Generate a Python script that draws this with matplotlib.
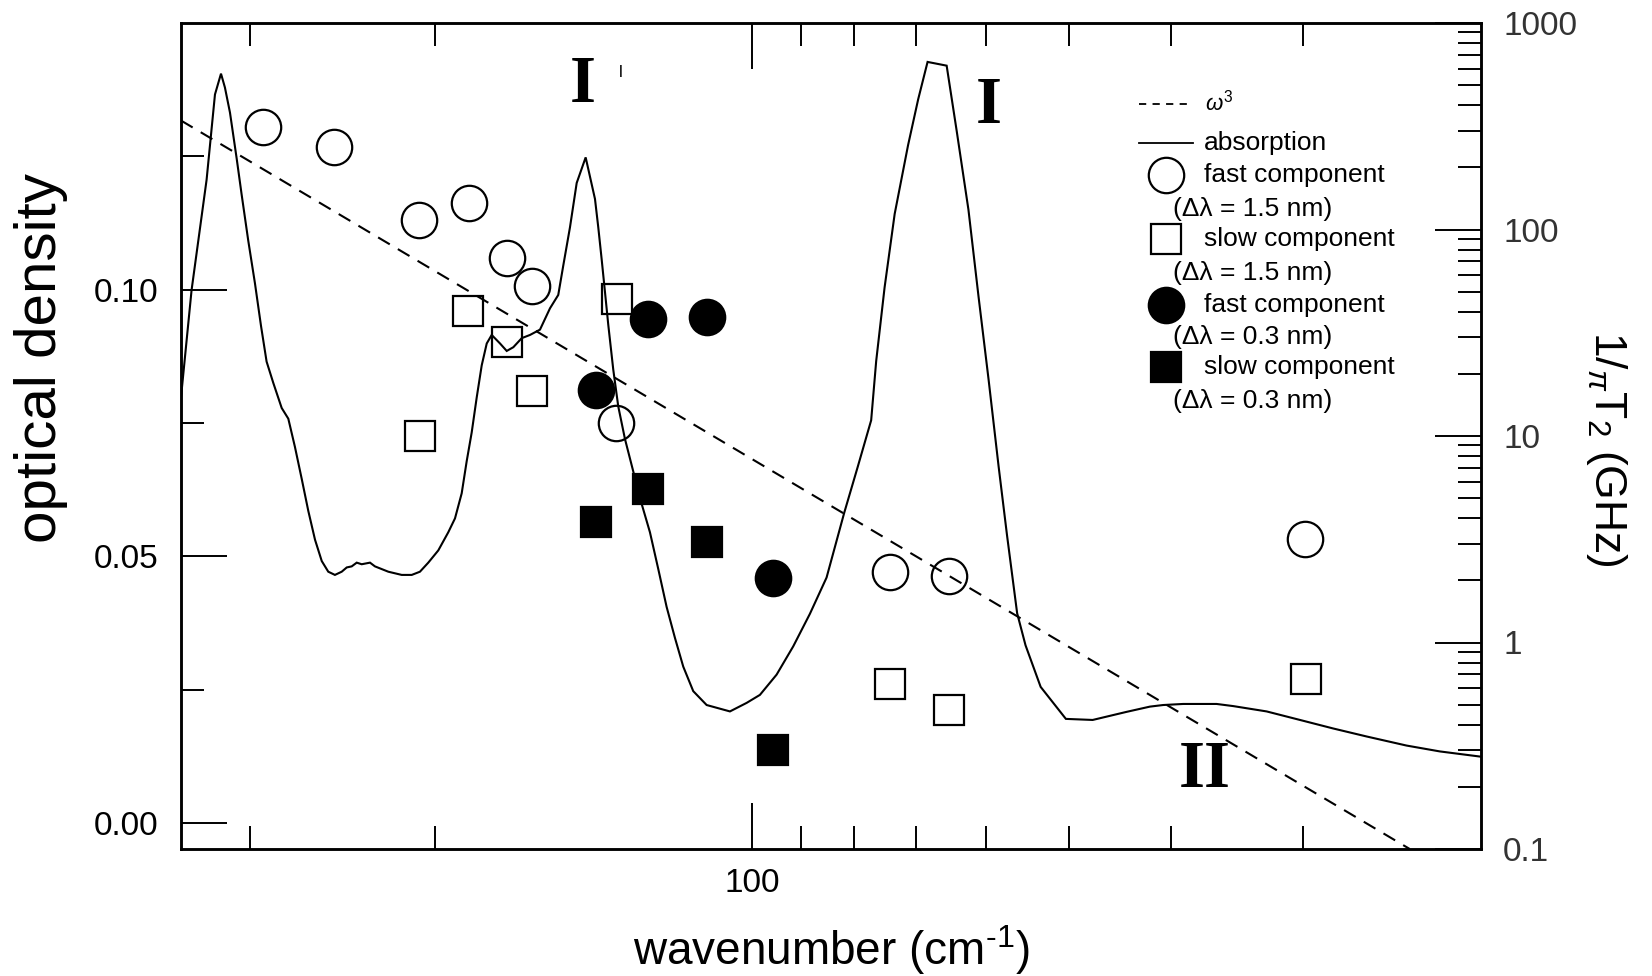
import matplotlib
matplotlib.use("Agg")
import matplotlib.pyplot as plt
from matplotlib.ticker import FixedLocator, FixedFormatter, NullFormatter

plt.rcParams['font.family'] = ['Liberation Sans', 'DejaVu Sans']
plt.rcParams['mathtext.fontset'] = 'custom'
plt.rcParams['mathtext.rm'] = 'Liberation Sans'
plt.rcParams['mathtext.it'] = 'Liberation Sans:italic'

# ---------------- data ----------------
# absorption spectrum (left axis, optical density)
abs_wavenumber = [28.66, 29.33, 30.31, 30.87, 31.28, 31.55, 31.90, 32.37, 32.72, 33.20,
                  33.69, 34.14, 34.56, 35.07, 35.72, 36.24, 36.77, 37.32, 37.86, 38.42,
                  38.99, 39.55, 40.13, 40.73, 41.18, 41.63, 42.09, 42.55, 43.33, 43.80,
                  45.10, 46.44, 47.47, 48.33, 49.22, 50.31, 51.42, 52.18, 52.95, 53.53,
                  54.12, 54.72, 55.32, 55.93, 56.54, 57.58, 58.43, 59.28, 60.38, 61.48,
                  62.84, 64.23, 65.40, 66.12, 67.10, 68.09, 69.44, 70.87, 71.38, 71.92,
                  72.44, 72.96, 73.76, 74.57, 75.67, 77.06, 78.49, 79.92, 81.39, 82.89,
                  84.41, 85.96, 87.86, 90.47, 95.20, 98.74, 101.65, 105.43, 109.33, 113.39,
                  117.60, 122.25, 125.91, 129.65, 131.08, 133.51, 136.49, 140.55, 143.69, 146.67,
                  152.92, 156.33, 160.38, 163.96, 167.59, 171.33, 174.51, 178.41, 181.71, 187.82,
                  198.47, 210.45, 226.45, 238.50, 245.53, 256.51, 275.96, 286.16, 307.85, 331.17,
                  356.14, 383.12, 418.04, 449.62, 492.47]
abs_od = [0.0798, 0.0999, 0.1206, 0.1366, 0.1405, 0.1379, 0.1332, 0.1246, 0.1179, 0.1092,
          0.1012, 0.0932, 0.0865, 0.0825, 0.0778, 0.0758, 0.0705, 0.0645, 0.0585, 0.0531,
          0.0491, 0.0471, 0.0465, 0.0471, 0.0479, 0.0481, 0.0488, 0.0485, 0.0488, 0.0481,
          0.0471, 0.0465, 0.0465, 0.0471, 0.0488, 0.0511, 0.0545, 0.0571, 0.0618, 0.0678,
          0.0732, 0.0798, 0.0858, 0.0899, 0.0915, 0.0899, 0.0885, 0.0892, 0.0909, 0.0915,
          0.0925, 0.0965, 0.0990, 0.1045, 0.1117, 0.1200, 0.1248, 0.1170, 0.1117, 0.1056,
          0.0995, 0.0934, 0.0850, 0.0781, 0.0720, 0.0659, 0.0598, 0.0545, 0.0476, 0.0405,
          0.0347, 0.0293, 0.0247, 0.0221, 0.0209, 0.0225, 0.0240, 0.0278, 0.0331, 0.0392,
          0.0460, 0.0582, 0.0668, 0.0755, 0.0866, 0.1004, 0.1142, 0.1271, 0.1357, 0.1427,
          0.1420, 0.1297, 0.1150, 0.0987, 0.0832, 0.0668, 0.0539, 0.0393, 0.0333, 0.0255,
          0.0195, 0.0193, 0.0208, 0.0218, 0.0221, 0.0223, 0.0223, 0.0219, 0.0209, 0.0193,
          0.0177, 0.0162, 0.0145, 0.0134, 0.0124]

# omega^3 guide line (right axis), end points
omega3_wavenumber = [28.66, 421.0]
omega3_rate = [337.0, 0.1]

# 1/(pi T2) in GHz (right axis)
fast15_wavenumber = [34.26, 40.07, 48.27, 53.80, 58.49, 61.70, 74.15, 135.2, 153.7, 335.0]
fast15_rate = [314.0, 250.0, 110.7, 135.1, 72.8, 53.0, 11.6, 2.19, 2.10, 3.16]

slow15_wavenumber = [48.3, 53.7, 58.5, 61.7, 74.3, 135.2, 153.7, 335.9]
slow15_rate = [10.0, 40.4, 28.6, 16.6, 46.2, 0.632, 0.473, 0.666]

fast03_wavenumber = [71.0, 79.6, 90.5, 104.5]
fast03_rate = [16.7, 36.9, 37.7, 2.05]

slow03_wavenumber = [71.0, 79.6, 90.5, 104.5]
slow03_rate = [3.82, 5.55, 3.05, 0.30]

# ticks
x_major_ticks = [100]
x_major_labels = ['100']
x_minor_ticks = [33.33, 50.0, 111.1, 125.0, 142.86, 166.67, 200.0, 250.0, 333.33]
od_major_ticks = [0.00, 0.05, 0.10]
od_major_labels = ['0.00', '0.05', '0.10']
od_minor_ticks = [0.025, 0.075, 0.125]
rate_major_ticks = [0.1, 1, 10, 100, 1000]
rate_major_labels = ['0.1', '1', '10', '100', '1000']
rate_minor_ticks = [m * d for d in [0.1, 1, 10, 100] for m in range(2, 10)]

legend_labels = ['absorption', 'fast component', 'slow component',
                 'fast component', 'slow component']
legend_sublabels = ['(\u0394\u03bb = 1.5 nm)', '(\u0394\u03bb = 1.5 nm)',
                    '(\u0394\u03bb = 0.3 nm)', '(\u0394\u03bb = 0.3 nm)']

# ---------------- figure ----------------
fig = plt.figure(figsize=(16.52, 9.76), dpi=100)
ax = fig.add_axes([181 / 1652, 127 / 976, 1300 / 1652, 826 / 976])
ax2 = ax.twinx()

LW = 1.5
ax.plot(abs_wavenumber, abs_od, color='black', lw=LW, solid_joinstyle='miter')
ax.set_xscale('log')
ax.set_xlim(28.66, 492.0)
ax.set_ylim(-0.0049, 0.150)

ax2.set_yscale('log')
ax2.set_ylim(0.1, 1000)
ax2.plot(omega3_wavenumber, omega3_rate, color='black', lw=LW, ls=(0, (6.5, 4.5)))

CIRC = 25.5
SQ = 22.0
MEW = 1.6
ax2.plot(fast15_wavenumber, fast15_rate, 'o', ms=CIRC, mfc='none', mec='black', mew=MEW)
ax2.plot(slow15_wavenumber, slow15_rate, 's', ms=SQ, mfc='none', mec='black', mew=MEW)
ax2.plot(fast03_wavenumber, fast03_rate, 'o', ms=CIRC, mfc='black', mec='black', mew=MEW)
ax2.plot(slow03_wavenumber, slow03_rate, 's', ms=SQ, mfc='black', mec='black', mew=MEW)

# ticks
ax.xaxis.set_major_locator(FixedLocator(x_major_ticks))
ax.xaxis.set_major_formatter(FixedFormatter(x_major_labels))
ax.xaxis.set_minor_locator(FixedLocator(x_minor_ticks))
ax.xaxis.set_minor_formatter(NullFormatter())
ax.yaxis.set_major_locator(FixedLocator(od_major_ticks))
ax.yaxis.set_major_formatter(FixedFormatter(od_major_labels))
ax.yaxis.set_minor_locator(FixedLocator(od_minor_ticks))
ax.yaxis.set_minor_formatter(NullFormatter())
ax2.yaxis.set_major_locator(FixedLocator(rate_major_ticks))
ax2.yaxis.set_major_formatter(FixedFormatter(rate_major_labels))
ax2.yaxis.set_minor_locator(FixedLocator(rate_minor_ticks))
ax2.yaxis.set_minor_formatter(NullFormatter())

TW = 1.4
ax.tick_params(axis='x', which='major', direction='in', length=33, width=TW,
               top=True, bottom=True, labelsize=24, pad=14)
ax.tick_params(axis='x', which='minor', direction='in', length=16.5, width=TW,
               top=True, bottom=True)
ax.tick_params(axis='y', which='major', direction='in', length=33, width=TW,
               left=True, right=False, labelsize=24, pad=16)
ax.tick_params(axis='y', which='minor', direction='in', length=16.5, width=TW,
               left=True, right=False)
ax2.tick_params(axis='y', which='major', direction='in', length=33, width=TW,
                left=False, right=True, labelsize=24, pad=16, labelcolor='#333333')
ax2.tick_params(axis='y', which='minor', direction='in', length=16.5, width=TW,
                left=False, right=True)

for sp in ax.spines.values():
    sp.set_linewidth(1.8)
for sp in ax2.spines.values():
    sp.set_linewidth(1.8)

# axis labels
ax.set_xlabel('wavenumber (cm$^{\\text{-1}}$)', fontsize=33)
ax.xaxis.set_label_coords(0.5, -0.090)
ax.set_ylabel('optical density', fontsize=42)
ax.yaxis.set_label_coords(-0.087, 0.594)
ax2.set_ylabel('1/$_{\\pi}$T$_{\\mathregular{2}}$ (GHz)', fontsize=32, rotation=270, va='bottom')
ax2.yaxis.set_label_coords(1.079, 0.484)

# band labels
serif = ['Liberation Serif', 'DejaVu Serif']
ax.text(0.309, 0.9047, 'I', transform=ax.transAxes, family=serif, fontsize=48,
        fontweight='bold', ha='center', va='baseline')
ax.text(0.3385, 0.9351, 'l', transform=ax.transAxes, fontsize=12,
        ha='center', va='baseline')
ax.text(0.621, 0.8794, 'I', transform=ax.transAxes, family=serif, fontsize=48,
        fontweight='bold', ha='center', va='baseline')
ax.text(0.7873, 0.0754, 'II', transform=ax.transAxes, family=serif, fontsize=48,
        fontweight='bold', ha='center', va='baseline')

# hand-built legend (axes fraction)
T = ax2.transAxes
ax2.plot([0.7369, 0.7754], [0.9019, 0.9019], transform=T, color='black', lw=1.3,
         ls=(0, (4, 3.5)), clip_on=False)
ax2.text(0.7877, 0.8935, '$\\omega^{3}$', transform=T, fontsize=16, va='baseline', ha='left')
ax2.plot([0.7369, 0.7785], [0.8547, 0.8547], transform=T, color='black', lw=1.3, clip_on=False)
ax2.text(0.7869, 0.8547, legend_labels[0], transform=T, fontsize=19, va='center', ha='left')

rows_y = [0.8160, 0.7379, 0.6590, 0.5835]
sub_y = [0.7748, 0.6977, 0.6202, 0.5427]
styles = [('o', 'none', CIRC), ('s', 'none', SQ), ('o', 'black', CIRC), ('s', 'black', SQ)]
for i, (mk, fc, ms) in enumerate(styles):
    ax2.plot([0.758], [rows_y[i]], marker=mk, ms=ms, mfc=fc, mec='black', mew=MEW,
             transform=T, clip_on=False, ls='none')
    ax2.text(0.7869, rows_y[i], legend_labels[i + 1], transform=T, fontsize=19,
             va='center', ha='left')
    ax2.text(0.7630, sub_y[i], legend_sublabels[i], transform=T, fontsize=19,
             va='center', ha='left')

fig.savefig('out.png', dpi=100, facecolor='white')
